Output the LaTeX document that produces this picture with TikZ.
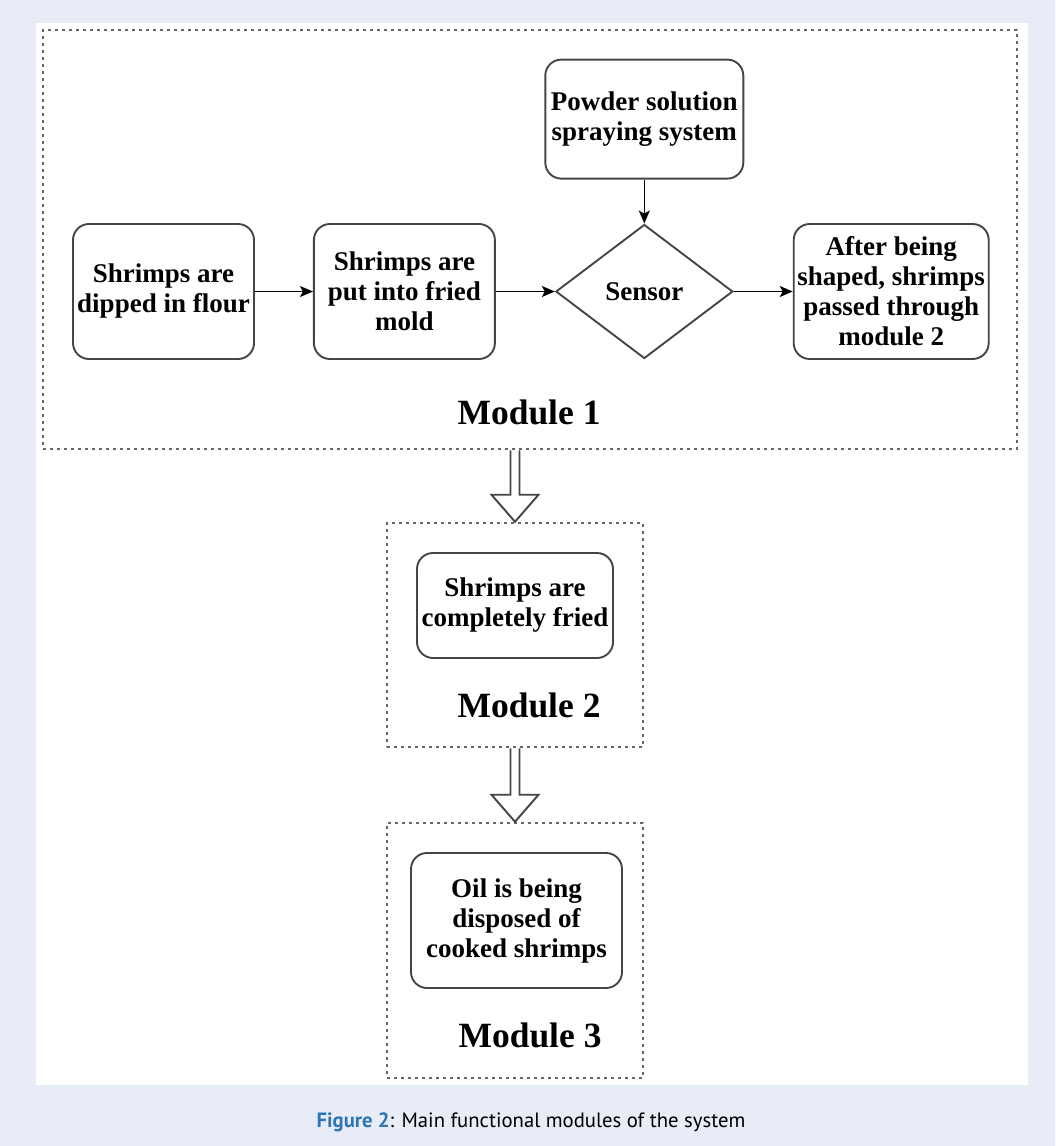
\documentclass[tikz,border=0pt]{standalone}
\usepackage{fontspec}
\setmainfont{Liberation Serif}
\newfontfamily\capfont{PT Sans}
\usepackage{xcolor}
\usepackage{tikz}
\usetikzlibrary{arrows.meta,positioning,shapes.geometric,calc}
\definecolor{pagebg}{HTML}{E7ECF6}
\definecolor{capblue}{HTML}{2F75B5}
\definecolor{framegray}{HTML}{666666}
\definecolor{boxgray}{HTML}{454545}
\newcommand{\boxfont}{\bfseries\fontsize{27}{30}\selectfont}
\newcommand{\modfont}{\bfseries\fontsize{35.5}{40}\selectfont}

\begin{document}
\begin{tikzpicture}[x=1pt,y=-1pt,
    frame/.style={draw=framegray,line width=2.5pt,dash pattern=on 2.8pt off 4.2pt,
                  fill=white,inner sep=0pt},
    proc/.style={draw=boxgray,line width=1.9pt,rounded corners=16pt,align=center,
                 inner sep=0pt,font=\boxfont,text=black},
    flow/.style={-{Stealth[length=13pt,width=11pt,inset=3pt]},line width=1.6pt},
    hollow/.style={draw=boxgray,line width=1.9pt,fill=white,line join=miter}]
  \useasboundingbox (0,0) rectangle (1055,1146);
  \fill[pagebg] (0,0) rectangle (1055,1146);
  \fill[white] (36,23) rectangle (1028,1085);

  % module frames
  \node[frame,minimum width=974pt,minimum height=419pt] (m1) at (530,239.5) {};
  \node[frame,minimum width=256pt,minimum height=224pt] (m2) at (515,635) {};
  \node[frame,minimum width=256pt,minimum height=255pt] (m3) at (515,950.5) {};

  % module 1
  \node[proc,minimum width=181pt,minimum height=135pt] (dip) at (163.5,291.5)
    {Shrimps are\\dipped in flour};
  \node[proc,minimum width=181pt,minimum height=135pt,right=58pt of dip] (mold)
    {Shrimps are\\put into fried\\mold};
  \node[draw=boxgray,line width=1.9pt,diamond,aspect=1.32,inner sep=0pt,
        minimum width=177pt,minimum height=134pt,font=\boxfont,text=black,
        right=59pt of mold] (sensor) {Sensor};
  \node[proc,minimum width=195pt,minimum height=135pt,right=59pt of sensor] (shaped)
    {After being\\shaped, shrimps\\passed through\\module 2};
  \node[proc,minimum width=198pt,minimum height=119pt,above=44pt of sensor] (spray)
    {Powder solution\\spraying system};
  \node[font=\modfont,anchor=base] (lab1) at (529,424) {Module 1};

  \draw[flow] (dip) -- (mold);
  \draw[flow] (mold) -- (sensor);
  \draw[flow] (sensor) -- (shaped);
  \draw[flow] (spray) -- (sensor);

  % module 2 and 3
  \node[proc,minimum width=196pt,minimum height=105pt] (fried) at (515,605.5)
    {Shrimps are\\completely fried};
  \node[font=\modfont,anchor=base] (lab2) at (529,717) {Module 2};
  \node[proc,minimum width=211pt,minimum height=135pt] (oil) at (516.5,920.5)
    {Oil is being\\disposed of\\cooked shrimps};
  \node[font=\modfont,anchor=base] (lab3) at (530,1047) {Module 3};

  % hollow arrows between modules
  \foreach \src/\dst in {m1/m2,m2/m3}{
    \coordinate (top) at (\dst.north |- \src.south);
    \draw[hollow] ($(top)+(-4.5,0)$) -- ($(\dst.north)+(-4.5,-27)$) -- ++(-19,0)
      -- (\dst.north) -- ($(\dst.north)+(23.5,-27)$) -- ++(-19,0) -- ($(top)+(4.5,0)$);
  }

  \node[font=\capfont\fontsize{20.7}{24}\selectfont] (caption) at (531,1122)
    {{\color{capblue}\bfseries Figure 2}: Main functional modules of the system};
\end{tikzpicture}
\end{document}
